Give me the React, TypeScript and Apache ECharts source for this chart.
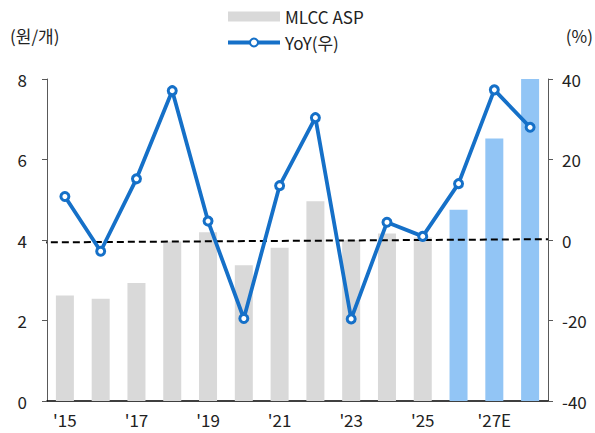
import React, { useEffect, useRef } from "react";
import * as echarts from "echarts";

const categories = ["'15", "'16", "'17", "'18", "'19", "'20", "'21", "'22", "'23", "'24", "'25", "'26E", "'27E", "'28E"];
const aspValues = [2.62, 2.54, 2.93, 3.96, 4.19, 3.37, 3.81, 4.96, 4.0, 4.16, 4.06, 4.75, 6.52, 8.0];
const forecast = [false, false, false, false, false, false, false, false, false, false, false, true, true, true];
const yoyValues = [10.8, -2.8, 15.2, 37.1, 4.7, -19.5, 13.5, 30.4, -19.6, 4.4, 0.9, 14.0, 37.3, 28.0];
const trendLine = [[-0.2, -0.6], [14, 0.2]];
const leftTicks = { min: 0, max: 8, interval: 2 };
const rightTicks = { min: -40, max: 40, interval: 20 };

const FONT = "'Noto Sans CJK KR', 'Noto Sans', sans-serif";
const BLUE = "#1570c8";

export default function App() {
  const ref = useRef<HTMLDivElement>(null);
  useEffect(() => {
    if (!ref.current) return;
    const chart = echarts.init(ref.current, null, { renderer: "svg" });
    chart.setOption({
      animation: false,
      textStyle: { fontFamily: FONT },
      grid: { left: 47, right: 47, top: 79, bottom: 32 },
      legend: {
        orient: "vertical",
        left: 226,
        top: 8,
        padding: 0,
        itemWidth: 52,
        itemHeight: 10,
        itemGap: 9,
        textStyle: { fontSize: 17, color: "#222", fontFamily: FONT },
        data: [
          { name: "MLCC ASP", icon: "rect" },
          { name: "YoY(우)", lineStyle: { width: 4, color: BLUE } },
        ],
      },
      graphic: [
        { type: "text", left: 10, top: 27, style: { text: "(원/개)", fontSize: 17, fill: "#222", fontFamily: FONT } },
        { type: "text", right: 2, top: 27, style: { text: "(%)", fontSize: 17, fill: "#222", fontFamily: FONT } },
      ],
      xAxis: [
        {
          type: "category",
          data: categories,
          boundaryGap: true,
          axisLine: { lineStyle: { color: "#000", width: 1.5 } },
          axisTick: { interval: 1, length: 5, lineStyle: { color: "#000" } },
          axisLabel: { interval: 1, fontSize: 17, color: "#222", margin: 10, fontFamily: FONT },
        },
        { type: "value", min: 0, max: 14, show: false },
      ],
      yAxis: [
        {
          type: "value",
          ...leftTicks,
          splitLine: { show: false },
          axisLine: { show: true, lineStyle: { color: "#595959" } },
          axisTick: { show: true, length: 5, lineStyle: { color: "#595959" } },
          axisLabel: { fontSize: 17, color: "#222", margin: 20, fontFamily: FONT },
        },
        {
          type: "value",
          ...rightTicks,
          splitLine: { show: false },
          axisLine: { show: true, lineStyle: { color: "#595959" } },
          axisTick: { show: true, length: 5, lineStyle: { color: "#595959" } },
          axisLabel: { fontSize: 17, color: "#222", margin: 14, fontFamily: FONT },
        },
      ],
      series: [
        {
          name: "MLCC ASP",
          type: "bar",
          barWidth: 18,
          itemStyle: { color: "#d9d9d9" },
          data: aspValues.map((v, i) => ({
            value: v,
            itemStyle: { color: forecast[i] ? "#92c5f5" : "#d9d9d9" },
          })),
        },
        {
          name: "trend",
          type: "line",
          xAxisIndex: 1,
          yAxisIndex: 1,
          data: trendLine,
          clip: false,
          symbol: "none",
          silent: true,
          lineStyle: { color: "#000", width: 2, type: [7, 4] },
          z: 3,
        },
        {
          name: "YoY(우)",
          type: "line",
          yAxisIndex: 1,
          data: yoyValues,
          symbol: "circle",
          symbolSize: 8,
          showAllSymbol: true,
          lineStyle: { color: BLUE, width: 3.8 },
          itemStyle: { color: "#fff", borderColor: BLUE, borderWidth: 3 },
          z: 4,
        },
      ],
    });
    return () => chart.dispose();
  }, []);
  return <div ref={ref} style={{ width: 595, height: 433, position: "absolute", left: 0, top: 0 }} />;
}
